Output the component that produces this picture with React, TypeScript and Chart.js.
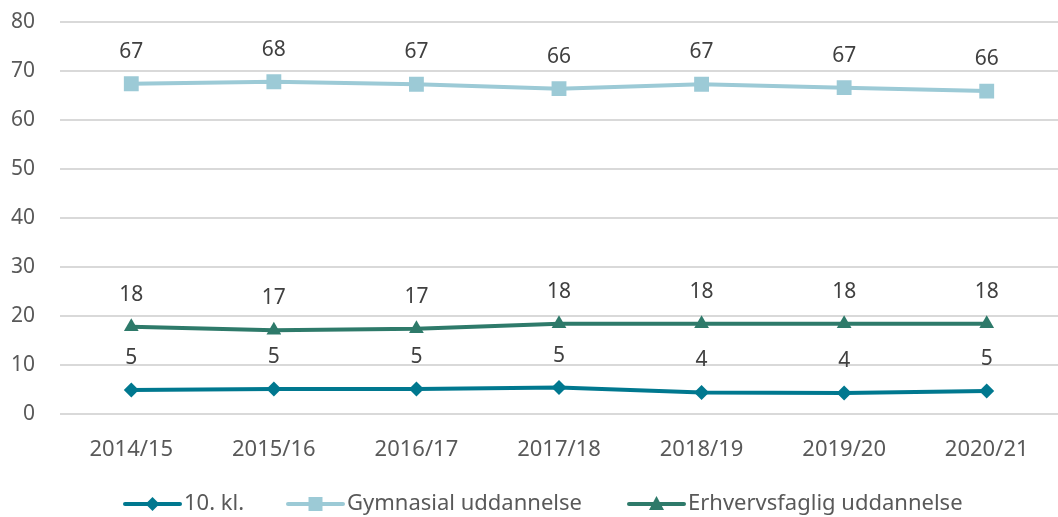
import React, { useEffect, useRef } from "react";
import { Chart, registerables } from "chart.js";

Chart.register(...registerables);

const categories = ["2014/15", "2015/16", "2016/17", "2017/18", "2018/19", "2019/20", "2020/21"];
const tenthGrade = [4.9, 5.1, 5.1, 5.4, 4.4, 4.3, 4.7];
const gymnasial = [67.4, 67.8, 67.3, 66.4, 67.3, 66.6, 65.9];
const vocational = [17.8, 17.1, 17.4, 18.4, 18.4, 18.4, 18.4];
const seriesNames = ["10. kl.", "Gymnasial uddannelse", "Erhvervsfaglig uddannelse"];
const yTicks = [0, 10, 20, 30, 40, 50, 60, 70, 80];

const COLORS = ["#00788f", "#9ccad6", "#2e7a6a"];
const FONT = "'Noto Sans', 'Open Sans', sans-serif";
const TEXT = "#595959";

const dataLabelPlugin = {
  id: "dataLabels",
  afterDatasetsDraw(chart: any) {
    const ctx = chart.ctx;
    ctx.save();
    ctx.font = `21px ${FONT}`;
    ctx.fillStyle = "#404040";
    ctx.textAlign = "center";
    ctx.textBaseline = "middle";
    chart.data.datasets.forEach((ds: any, i: number) => {
      const meta = chart.getDatasetMeta(i);
      meta.data.forEach((pt: any, j: number) => {
        ctx.fillText(String(Math.round(ds.data[j])), pt.x, pt.y - 32);
      });
    });
    ctx.restore();
  },
};

const legendPlugin = {
  id: "customLegend",
  afterDraw(chart: any) {
    const ctx = chart.ctx;
    const y = 504;
    const items = [
      { x: 125, style: "rectRot" },
      { x: 288, style: "rect" },
      { x: 629, style: "triangle" },
    ];
    ctx.save();
    ctx.font = `22px ${FONT}`;
    ctx.textBaseline = "middle";
    ctx.textAlign = "left";
    items.forEach((it, i) => {
      const lineW = 55;
      ctx.strokeStyle = COLORS[i];
      ctx.lineWidth = 4;
      ctx.lineCap = "round";
      ctx.beginPath();
      ctx.moveTo(it.x, y);
      ctx.lineTo(it.x + lineW, y);
      ctx.stroke();
      ctx.fillStyle = COLORS[i];
      const cx = it.x + lineW / 2;
      ctx.beginPath();
      if (it.style === "rectRot") {
        const r = 7;
        ctx.moveTo(cx, y - r);
        ctx.lineTo(cx + r, y);
        ctx.lineTo(cx, y + r);
        ctx.lineTo(cx - r, y);
        ctx.closePath();
      } else if (it.style === "rect") {
        ctx.rect(cx - 7, y - 7, 14, 14);
      } else {
        ctx.moveTo(cx, y - 8);
        ctx.lineTo(cx + 7.5, y + 6);
        ctx.lineTo(cx - 7.5, y + 6);
        ctx.closePath();
      }
      ctx.fill();
      ctx.fillStyle = TEXT;
      ctx.fillText(seriesNames[i], it.x + lineW + 4, y);
    });
    ctx.restore();
  },
};

export default function App() {
  const canvasRef = useRef<HTMLCanvasElement | null>(null);

  useEffect(() => {
    document.body.style.margin = "0";
    const mk = (label: string, data: number[], color: string, style: string, radius: number) => ({
      label,
      data,
      borderColor: color,
      backgroundColor: color,
      borderWidth: 4,
      pointStyle: style,
      pointRadius: radius,
      pointBorderWidth: 0,
      pointBackgroundColor: color,
      tension: 0,
    });
    const chart = new Chart(canvasRef.current as HTMLCanvasElement, {
      type: "line",
      data: {
        labels: categories,
        datasets: [
          mk(seriesNames[0], tenthGrade, COLORS[0], "rectRot", 7.5),
          mk(seriesNames[1], gymnasial, COLORS[1], "rect", 10.5),
          mk(seriesNames[2], vocational, COLORS[2], "triangle", 8.5),
        ],
      },
      options: {
        animation: false,
        responsive: false,
        devicePixelRatio: 1,
        layout: { autoPadding: false, padding: { top: 22, bottom: 43, right: 0, left: 0 } },
        plugins: {
          legend: { display: false },
          tooltip: { enabled: false },
        },
        scales: {
          x: {
            offset: true,
            grid: { display: false, drawTicks: false },
            border: { display: false },
            ticks: { color: TEXT, font: { size: 22, family: FONT }, padding: 23, maxRotation: 0 },
            afterFit: (s: any) => {
              s.height = 60;
              s.paddingLeft = 0;
              s.paddingRight = 0;
            },
          },
          y: {
            min: 0,
            max: 80,
            afterBuildTicks: (s: any) => { s.ticks = yTicks.map((v) => ({ value: v })); },
            grid: { color: "#d9d9d9", lineWidth: 2, drawTicks: false },
            border: { display: false },
            ticks: { color: TEXT, font: { size: 21, family: FONT }, padding: 25 },
            afterFit: (s: any) => {
              s.width = 60;
              s.paddingTop = 0;
              s.paddingBottom = 0;
            },
          },
        },
      },
      plugins: [dataLabelPlugin, legendPlugin],
    } as any);
    return () => chart.destroy();
  }, []);

  return (
    <div style={{ position: "fixed", left: 0, top: 0, width: 1058, height: 517 }}>
      <canvas ref={canvasRef} width={1058} height={517} style={{ display: "block" }} />
    </div>
  );
}
